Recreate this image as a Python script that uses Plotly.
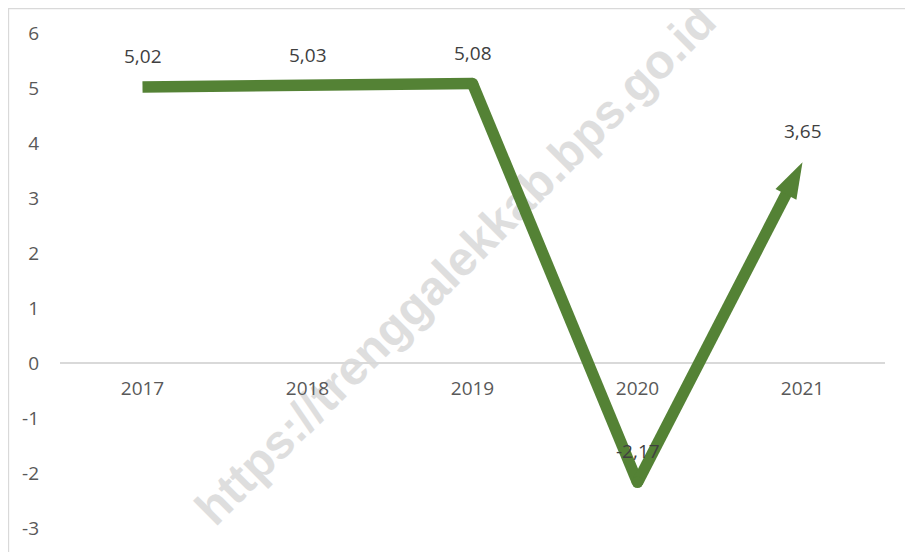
import plotly.graph_objects as go

years = [2017, 2018, 2019, 2020, 2021]
growth = [5.02, 5.03, 5.08, -2.17, 3.65]
y_ticks = [-3, -2, -1, 0, 1, 2, 3, 4, 5, 6]
watermark = "https://trenggalekkab.bps.go.id"

GREEN = "#548235"
FONT = "Open Sans"

fig = go.Figure()

fig.add_trace(go.Scatter(
    x=years, y=growth, mode="lines+markers",
    line=dict(color=GREEN, width=11.5),
    marker=dict(
        symbol=["circle", "circle", "circle", "circle", "arrow"],
        size=[11.5, 0, 11.5, 11.5, 38],
        color=GREEN, opacity=1, line=dict(width=0, color=GREEN),
        angleref="previous",
    ),
    opacity=1,
    hoverinfo="x+y", showlegend=False,
))

for yr, v in zip(years, growth):
    fig.add_annotation(
        x=yr, y=v, text=f"{v:.2f}".replace(".", ","), showarrow=False,
        yshift=31, yanchor="middle", xanchor="center",
        font=dict(family=FONT, size=19, color="#404040"),
    )

# watermark, behind the line
fig.add_shape(
    type="rect", xref="paper", yref="paper",
    x0=0.375, x1=0.575, y0=0.49, y1=0.59,
    line=dict(width=0), fillcolor="rgba(0,0,0,0)", layer="below",
    label=dict(text=watermark, textangle=-45, textposition="middle center",
               font=dict(family="Liberation Sans", size=48, color="#dedede",
                         weight="bold")),
)

# outer chart border
fig.add_shape(
    type="rect", xref="paper", yref="paper",
    x0=-0.0624, x1=1.0315, y0=-0.06, y1=1.0495,
    line=dict(color="#d9d9d9", width=1.3), fillcolor="rgba(0,0,0,0)",
    layer="below",
)

fig.update_xaxes(
    range=[years[0] - 0.5, years[-1] + 0.5],
    tickvals=years, ticktext=[str(y) for y in years],
    anchor="free", position=1/3, automargin=False,
    showgrid=False, showline=False, zeroline=False, ticks="",
    ticklabelstandoff=12,
    tickfont=dict(family=FONT, size=19, color="#595959"),
)
fig.update_yaxes(
    range=[-3, 6], tickvals=y_ticks, ticktext=[str(t) for t in y_ticks],
    automargin=False,
    showgrid=False, showline=False,
    zeroline=True, zerolinecolor="#d9d9d9", zerolinewidth=1.5,
    ticks="", ticklabelstandoff=20,
    tickfont=dict(family=FONT, size=19, color="#595959"),
)

fig.update_layout(
    width=905, height=544,
    margin=dict(l=52, r=28, t=25, b=24),
    paper_bgcolor="white", plot_bgcolor="white",
    showlegend=False,
)

fig.write_html("out.html")
